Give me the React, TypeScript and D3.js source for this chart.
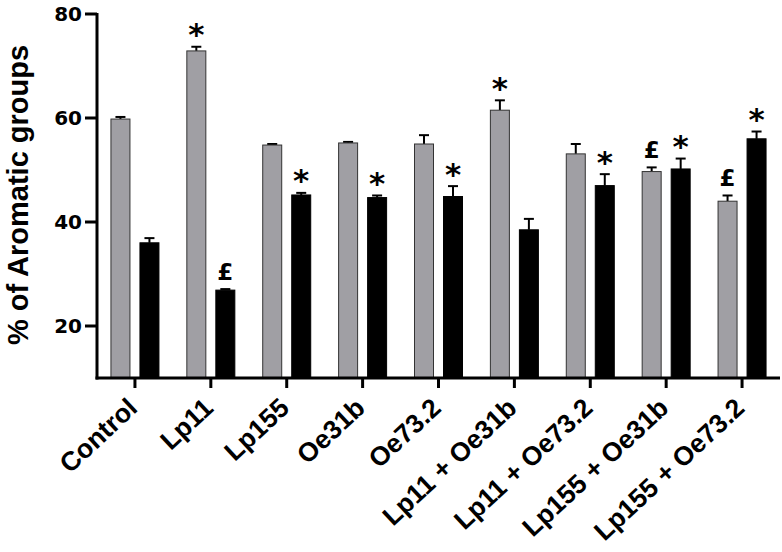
import React from 'react';
import * as d3 from 'd3';

const categories = [
  'Control', 'Lp11', 'Lp155', 'Oe31b', 'Oe73.2',
  'Lp11 + Oe31b', 'Lp11 + Oe73.2', 'Lp155 + Oe31b', 'Lp155 + Oe73.2',
];
const series = ['gray', 'black'];
const grayValues = [59.8, 72.9, 54.8, 55.2, 55.0, 61.5, 53.1, 49.7, 44.0];
const grayErrors = [0.4, 0.8, 0.2, 0.2, 1.7, 1.9, 1.9, 0.8, 1.1];
const blackValues = [36.0, 26.9, 45.2, 44.7, 44.9, 38.5, 47.0, 50.2, 56.0];
const blackErrors = [0.9, 0.2, 0.4, 0.4, 2.0, 2.1, 2.2, 2.0, 1.4];
const grayMarks = ['', '*', '', '', '', '*', '', '£', '£'];
const blackMarks = ['', '£', '*', '*', '*', '', '*', '*', '*'];
const yTicks = [20, 40, 60, 80];

const WIDE = '"DejaVu Sans", sans-serif';
const ARIAL = '"Liberation Sans", Arial, sans-serif';

const App = () => {
  const width = 782;
  const height = 552;
  const left = 97;
  const right = 780;
  const top = 14;
  const bottom = 378;

  const y = d3.scaleLinear().domain([10, 80]).range([bottom, top]);
  const x = d3.scalePoint().domain(categories).range([left, right]).padding(0.5);
  const inner = d3.scaleBand().domain(series).range([-24, 24]).paddingInner(0.345);

  const groups = categories.map((c, i) => ({
    c,
    bars: [
      { s: 'gray', v: grayValues[i], e: grayErrors[i], m: grayMarks[i] },
      { s: 'black', v: blackValues[i], e: blackErrors[i], m: blackMarks[i] },
    ],
  }));

  return (
    <svg width={width} height={height} style={{ position: 'absolute', left: 0, top: 0, background: '#fff' }}>
      {groups.map(g => (
        <g key={g.c} transform={`translate(${x(g.c)},0)`}>
          {g.bars.map(b => {
            const bx = inner(b.s)!;
            const bw = inner.bandwidth();
            const cx = bx + bw / 2;
            const capY = y(b.v + b.e);
            return (
              <g key={b.s}>
                <line x1={cx} x2={cx} y1={y(b.v)} y2={capY} stroke="#000" strokeWidth={2} />
                <line x1={cx - 5} x2={cx + 5} y1={capY} y2={capY} stroke="#000" strokeWidth={2} />
                <rect
                  x={bx}
                  y={y(b.v)}
                  width={bw}
                  height={bottom - y(b.v)}
                  fill={b.s === 'gray' ? '#a09fa4' : '#000'}
                  stroke={b.s === 'gray' ? '#333' : '#000'}
                  strokeWidth={1}
                />
                {b.m === '*' && (
                  <text x={cx} y={capY - 1.5} textAnchor="middle" fontFamily={WIDE} fontWeight="bold" fontSize={31}>*</text>
                )}
                {b.m === '£' && (
                  <text x={cx} y={capY - 9} textAnchor="middle" fontFamily={WIDE} fontWeight="bold" fontSize={23}>£</text>
                )}
              </g>
            );
          })}
        </g>
      ))}

      {/* axes */}
      <line x1={left} x2={left} y1={top - 1} y2={bottom + 1.5} stroke="#000" strokeWidth={3} />
      <line x1={left - 1.5} x2={right} y1={bottom} y2={bottom} stroke="#000" strokeWidth={3} />
      {yTicks.map(t => (
        <g key={t}>
          <line x1={left - 12} x2={left} y1={y(t)} y2={y(t)} stroke="#000" strokeWidth={3} />
          <text x={left - 15} y={y(t)} dy="0.36em" textAnchor="end" fontFamily={WIDE} fontWeight="bold" fontSize={20}>{t}</text>
        </g>
      ))}
      {categories.map(c => (
        <g key={c}>
          <line x1={x(c)} x2={x(c)} y1={bottom} y2={bottom + 10} stroke="#000" strokeWidth={3} />
          <text
            transform={`translate(${x(c)! + 4},${bottom + 32}) rotate(-43)`}
            textAnchor="end"
            fontFamily={ARIAL}
            fontWeight="bold"
            fontSize={26.5}
          >
            {c}
          </text>
        </g>
      ))}
      <text
        transform={`translate(28,195) rotate(-90)`}
        textAnchor="middle"
        fontFamily={ARIAL}
        fontWeight="bold"
        fontSize={29}
      >
        % of Aromatic groups
      </text>
    </svg>
  );
};

export default App;
